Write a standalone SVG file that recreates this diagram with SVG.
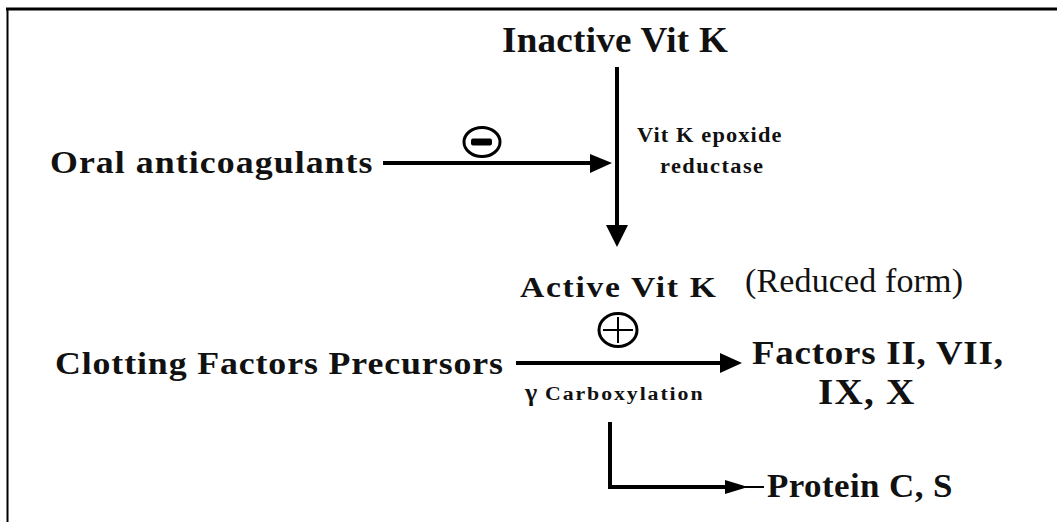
<svg xmlns="http://www.w3.org/2000/svg" width="1057" height="522" viewBox="0 0 1057 522">
<style>
  .b { font-family: "Liberation Serif", "Times New Roman", serif; font-weight: bold; fill: #111; }
  .r { font-family: "Liberation Serif", "Times New Roman", serif; fill: #111; }
  .ln { stroke: #000; stroke-width: 4; fill: none; }
  .hd { fill: #000; }
  .sym { stroke: #000; stroke-width: 3; fill: #fff; }
</style>
<rect width="1057" height="522" fill="#fff"/>
<g id="frame">
  <line x1="6" y1="9" x2="1057" y2="9" stroke="#000" stroke-width="3"/>
  <line x1="7.5" y1="8" x2="7.5" y2="522" stroke="#000" stroke-width="2"/>
</g>
<g id="connectors">
  <line class="ln" x1="617" y1="67" x2="617" y2="228"/>
  <polygon class="hd" points="606,225 628,225 617,247"/>
  <line class="ln" x1="383" y1="163" x2="592" y2="163"/>
  <polygon class="hd" points="590,154 590,173 612,163"/>
  <line class="ln" x1="516" y1="363" x2="722" y2="363"/>
  <polygon class="hd" points="720,353 720,373 742,363"/>
  <polyline class="ln" points="610,422 610,487 730,487"/>
  <polygon class="hd" points="725,480 725,494 748,487"/>
  <line x1="745" y1="487" x2="764" y2="487" stroke="#000" stroke-width="2"/>
</g>
<g id="inactive-vitk">
  <text class="b" transform="translate(502,52) scale(1.06,1)" font-size="35" textLength="213">Inactive Vit K</text>
</g>
<g id="oral-anticoagulants">
  <text class="b" transform="translate(50,173) scale(1.12,1)" font-size="32" textLength="288">Oral anticoagulants</text>
</g>
<g id="inhibit">
  <ellipse class="sym" cx="482" cy="142" rx="18" ry="14.5"/>
  <rect x="471" y="138.5" width="21" height="7" rx="2" fill="#000"/>
</g>
<g id="enzyme">
  <text class="b" transform="translate(637,142) scale(1.12,1)" font-size="20" textLength="129">Vit K epoxide</text>
  <text class="b" transform="translate(660,173) scale(1.12,1)" font-size="20" textLength="92">reductase</text>
</g>
<g id="active-vitk">
  <text class="b" transform="translate(520,297) scale(1.12,1)" font-size="30" textLength="175">Active Vit K</text>
  <text class="r" x="745" y="292" font-size="34" textLength="218">(Reduced form)</text>
</g>
<g id="stimulate">
  <ellipse class="sym" cx="618" cy="330" rx="19" ry="16.5"/>
  <line x1="603" y1="330" x2="633" y2="330" stroke="#000" stroke-width="2"/>
  <line x1="618" y1="317" x2="618" y2="343" stroke="#000" stroke-width="2"/>
</g>
<g id="precursors">
  <text class="b" transform="translate(55,374) scale(1.12,1)" font-size="32" textLength="400">Clotting Factors Precursors</text>
</g>
<g id="carboxylation">
  <text class="b" x="525" y="401" font-size="26">γ</text>
  <text class="b" transform="translate(545,400) scale(1.15,1)" font-size="19" textLength="137">Carboxylation</text>
</g>
<g id="factors">
  <text class="b" transform="translate(752,364) scale(1.12,1)" font-size="33" textLength="224">Factors II, VII,</text>
  <text class="b" transform="translate(818,404) scale(1.12,1)" font-size="35" textLength="86">IX, X</text>
</g>
<g id="protein-cs">
  <text class="b" transform="translate(767,497) scale(1.06,1)" font-size="33" textLength="175">Protein C, S</text>
</g>
</svg>
